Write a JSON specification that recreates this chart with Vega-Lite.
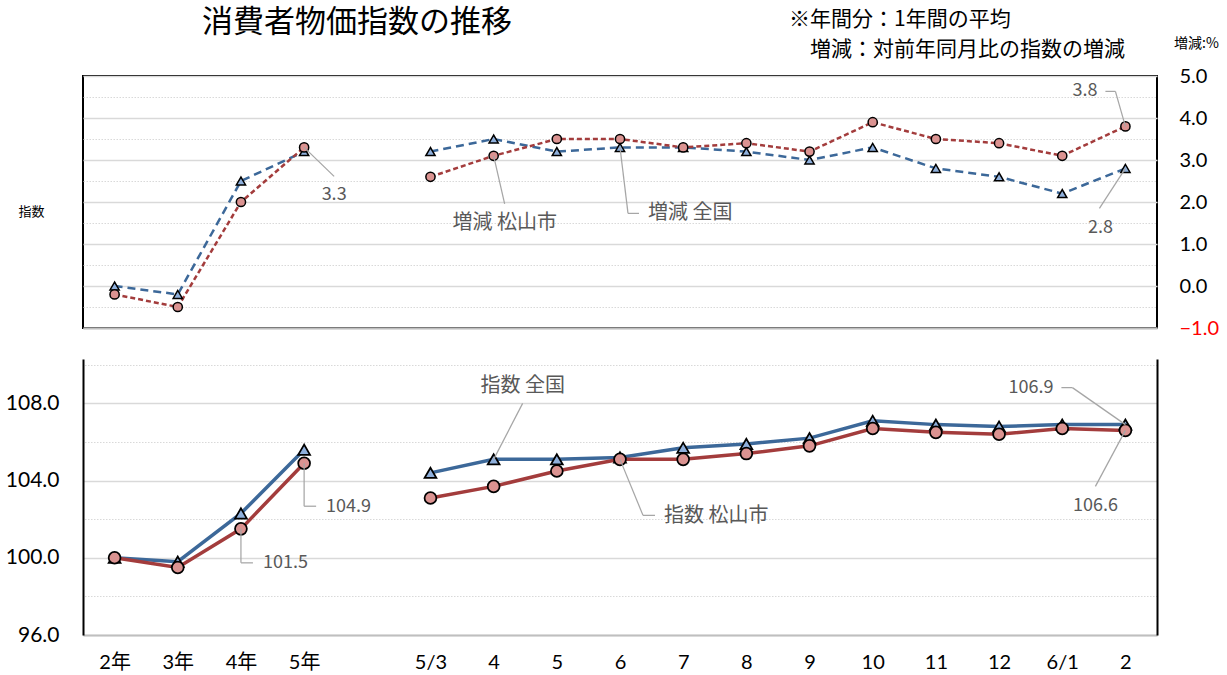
{
  "$schema": "https://vega.github.io/schema/vega-lite/v6.json",
  "padding": {"left": 5, "top": 7, "right": 5, "bottom": 5},
  "background": "white",
  "title": {"text": "消費者物価指数の推移", "anchor": "start", "frame": "group", "dx": 119, "dy": 31, "offset": 0, "fontSize": 31, "font": "Noto Sans CJK JP", "fontWeight": "normal", "color": "#000000"},
  "data": {"values": [
    {"k": "2年", "area": "全国", "p": "年", "idx": 100.0, "rate": 0.0},
    {"k": "3年", "area": "全国", "p": "年", "idx": 99.8, "rate": -0.2},
    {"k": "4年", "area": "全国", "p": "年", "idx": 102.3, "rate": 2.5},
    {"k": "5年", "area": "全国", "p": "年", "idx": 105.6, "rate": 3.2},
    {"k": "5/3", "area": "全国", "p": "月", "idx": 104.4, "rate": 3.2},
    {"k": "4", "area": "全国", "p": "月", "idx": 105.1, "rate": 3.5},
    {"k": "5", "area": "全国", "p": "月", "idx": 105.1, "rate": 3.2},
    {"k": "6", "area": "全国", "p": "月", "idx": 105.2, "rate": 3.3},
    {"k": "7", "area": "全国", "p": "月", "idx": 105.7, "rate": 3.3},
    {"k": "8", "area": "全国", "p": "月", "idx": 105.9, "rate": 3.2},
    {"k": "9", "area": "全国", "p": "月", "idx": 106.2, "rate": 3.0},
    {"k": "10", "area": "全国", "p": "月", "idx": 107.1, "rate": 3.3},
    {"k": "11", "area": "全国", "p": "月", "idx": 106.9, "rate": 2.8},
    {"k": "12", "area": "全国", "p": "月", "idx": 106.8, "rate": 2.6},
    {"k": "6/1", "area": "全国", "p": "月", "idx": 106.9, "rate": 2.2},
    {"k": "2", "area": "全国", "p": "月", "idx": 106.9, "rate": 2.8},
    {"k": "2年", "area": "松山市", "p": "年", "idx": 100.0, "rate": -0.2},
    {"k": "3年", "area": "松山市", "p": "年", "idx": 99.5, "rate": -0.5},
    {"k": "4年", "area": "松山市", "p": "年", "idx": 101.5, "rate": 2.0},
    {"k": "5年", "area": "松山市", "p": "年", "idx": 104.9, "rate": 3.3},
    {"k": "5/3", "area": "松山市", "p": "月", "idx": 103.1, "rate": 2.6},
    {"k": "4", "area": "松山市", "p": "月", "idx": 103.7, "rate": 3.1},
    {"k": "5", "area": "松山市", "p": "月", "idx": 104.5, "rate": 3.5},
    {"k": "6", "area": "松山市", "p": "月", "idx": 105.1, "rate": 3.5},
    {"k": "7", "area": "松山市", "p": "月", "idx": 105.1, "rate": 3.3},
    {"k": "8", "area": "松山市", "p": "月", "idx": 105.4, "rate": 3.4},
    {"k": "9", "area": "松山市", "p": "月", "idx": 105.8, "rate": 3.2},
    {"k": "10", "area": "松山市", "p": "月", "idx": 106.7, "rate": 3.9},
    {"k": "11", "area": "松山市", "p": "月", "idx": 106.5, "rate": 3.5},
    {"k": "12", "area": "松山市", "p": "月", "idx": 106.4, "rate": 3.4},
    {"k": "6/1", "area": "松山市", "p": "月", "idx": 106.7, "rate": 3.1},
    {"k": "2", "area": "松山市", "p": "月", "idx": 106.6, "rate": 3.8}
  ]},
  "spacing": 20,
  "vconcat": [
    {
      "width": 1074,
      "height": 252,
      "title": {"text": ["※年間分：1年間の平均", "\u200b\u3000増減：対前年同月比の指数の増減"], "anchor": "start", "frame": "group", "dx": 706, "offset": -24, "fontSize": 21, "lineHeight": 30, "font": "Noto Sans CJK JP", "fontWeight": "normal", "color": "#000000"},
      "view": {"stroke": "#000000", "strokeWidth": 2},
      "encoding": {
        "x": {"field": "k", "type": "ordinal", "scale": {"type": "point", "domain": ["2年", "3年", "4年", "5年", " ", "5/3", "4", "5", "6", "7", "8", "9", "10", "11", "12", "6/1", "2"], "padding": 0.5},
          "axis": {"title": null, "labels": false, "ticks": false, "grid": false, "domain": true, "domainColor": "#BFBFBF", "domainWidth": 2}}
      },
      "layer": [
        {
          "layer": [
            {
              "mark": {"type": "line", "strokeWidth": 2.5},
              "encoding": {
                "y": {"field": "rate", "type": "quantitative", "scale": {"domain": [-1, 5], "nice": false, "zero": false},
                  "axis": {"orient": "right", "values": [-1, 0, 1, 2, 3, 4, 5], "format": ".1f", "labelFontSize": 20, "labelFont": "Lato", "labelColor": {"condition": {"test": "datum.value < 0", "value": "#FF0000"}, "value": "#000000"}, "labelPadding": 22, "labelAlign": "left", "labelFlush": false, "labelOverlap": false, "ticks": false, "domain": false, "grid": true, "gridColor": "#D9D9D9", "gridWidth": 1.5,
                    "title": "増減:%", "titleFont": "Noto Sans CJK JP", "titleFontSize": 14, "titleFontWeight": "normal", "titleColor": "#000000", "titleAngle": 0, "titleX": 39, "titleY": -33, "titleAlign": "center", "titleBaseline": "middle"}},
                "color": {"field": "area", "type": "nominal", "scale": {"domain": ["全国", "松山市"], "range": ["#3C6899", "#A33C3C"]}, "legend": null},
                "strokeDash": {"field": "area", "type": "nominal", "scale": {"domain": ["全国", "松山市"], "range": [[8, 5], [5, 3]]}, "legend": null},
                "detail": {"field": "p"}
              }
            },
            {
              "mark": {"type": "point", "filled": true, "stroke": "#000000", "strokeWidth": 1.5, "opacity": 1, "size": 85},
              "encoding": {
                "y": {"field": "rate", "type": "quantitative"},
                "fill": {"field": "area", "type": "nominal", "scale": {"domain": ["全国", "松山市"], "range": ["#8FB0DC", "#DB9391"]}, "legend": null},
                "shape": {"field": "area", "type": "nominal", "scale": {"domain": ["全国", "松山市"], "range": ["triangle-up", "circle"]}, "legend": null}
              }
            },
            {
              "transform": [{"filter": "datum.k === '5年' && datum.area === '松山市'"}],
              "encoding": {"y": {"field": "rate", "type": "quantitative"}},
              "layer": [
                {"mark": {"type": "rule", "x2Offset": 30, "y2Offset": 29}, "encoding": {"x2": {"field": "k"}, "y2": {"field": "rate"}}},
                {"mark": {"type": "text", "dx": 30, "dy": 48}, "encoding": {"text": {"field": "rate", "type": "quantitative", "format": ".1f"}}}
              ]
            },
            {
              "transform": [{"filter": "datum.k === '4' && datum.area === '松山市'"}],
              "encoding": {"y": {"field": "rate", "type": "quantitative"}},
              "layer": [
                {"mark": {"type": "rule", "x2Offset": 11, "y2Offset": 48}, "encoding": {"x2": {"field": "k"}, "y2": {"field": "rate"}}},
                {"mark": {"type": "text", "dx": 11, "dy": 67, "fontSize": 20}, "encoding": {"text": {"value": "増減 松山市"}}}
              ]
            },
            {
              "transform": [{"filter": "datum.k === '6' && datum.area === '全国'"}],
              "encoding": {"y": {"field": "rate", "type": "quantitative"}},
              "layer": [
                {"mark": {"type": "rule", "x2Offset": 8, "y2Offset": 66}, "encoding": {"x2": {"field": "k"}, "y2": {"field": "rate"}}},
                {"mark": {"type": "rule", "xOffset": 8, "yOffset": 66, "x2Offset": 19, "y2Offset": 66}, "encoding": {"x2": {"field": "k"}, "y2": {"field": "rate"}}},
                {"mark": {"type": "text", "dx": 28, "dy": 66, "fontSize": 20, "align": "left"}, "encoding": {"text": {"value": "増減 全国"}}}
              ]
            },
            {
              "transform": [{"filter": "datum.k === '2' && datum.area === '全国'"}],
              "encoding": {"y": {"field": "rate", "type": "quantitative"}},
              "layer": [
                {"mark": {"type": "rule", "x2Offset": -26, "y2Offset": 40}, "encoding": {"x2": {"field": "k"}, "y2": {"field": "rate"}}},
                {"mark": {"type": "text", "dx": -25, "dy": 60}, "encoding": {"text": {"field": "rate", "type": "quantitative", "format": ".1f"}}}
              ]
            },
            {
              "transform": [{"filter": "datum.k === '2' && datum.area === '松山市'"}],
              "encoding": {"y": {"field": "rate", "type": "quantitative"}},
              "layer": [
                {"mark": {"type": "rule", "x2Offset": -10, "y2Offset": -35}, "encoding": {"x2": {"field": "k"}, "y2": {"field": "rate"}}},
                {"mark": {"type": "rule", "xOffset": -10, "yOffset": -35, "x2Offset": -20, "y2Offset": -35}, "encoding": {"x2": {"field": "k"}, "y2": {"field": "rate"}}},
                {"mark": {"type": "text", "dx": -28, "dy": -35, "align": "right"}, "encoding": {"text": {"field": "rate", "type": "quantitative", "format": ".1f"}}}
              ]
            }
          ]
        },
        {
          "mark": {"type": "point", "opacity": 0},
          "encoding": {
            "y": {"field": "rate", "type": "quantitative", "scale": {"domain": [-1, 5], "nice": false, "zero": false},
              "axis": {"orient": "left", "values": [-0.5, 0.5, 1.5, 2.5, 3.5, 4.5], "grid": true, "gridColor": "#D9D9D9", "gridDash": [1.5, 1.5], "gridWidth": 1, "labels": false, "ticks": false, "domain": false,
                "title": "指数", "titleAngle": 0, "titleX": -52, "titleY": 135, "titleAlign": "center", "titleBaseline": "middle", "titleFontSize": 13, "titleFont": "Noto Sans CJK JP", "titleFontWeight": "normal", "titleColor": "#000000"}}
          }
        }
      ],
      "resolve": {"scale": {"y": "independent"}}
    },
    {
      "width": 1074,
      "height": 276,
      "encoding": {
        "x": {"field": "k", "type": "ordinal", "scale": {"type": "point", "domain": ["2年", "3年", "4年", "5年", " ", "5/3", "4", "5", "6", "7", "8", "9", "10", "11", "12", "6/1", "2"], "padding": 0.5},
          "axis": {"title": null, "values": ["2年", "3年", "4年", "5年", "5/3", "4", "5", "6", "7", "8", "9", "10", "11", "12", "6/1", "2"], "labelFontSize": 20, "labelFont": "Lato, Noto Sans CJK JP", "labelPadding": 17, "labelColor": "#000000", "labelAngle": 0, "ticks": false, "grid": false, "domain": true, "domainColor": "#BFBFBF", "domainWidth": 2}}
      },
      "layer": [
        {
          "layer": [
            {
              "mark": {"type": "line", "strokeWidth": 3.5},
              "encoding": {
                "y": {"field": "idx", "type": "quantitative", "scale": {"domain": [96, 110.3], "nice": false, "zero": false},
                  "axis": {"orient": "left", "values": [96, 100, 104, 108], "format": ".1f", "labelFontSize": 21, "labelFont": "Lato", "labelPadding": 24, "labelColor": "#000000", "labelFlush": false, "ticks": false, "domain": true, "domainColor": "#000000", "domainWidth": 2, "grid": true, "gridColor": "#D9D9D9", "gridWidth": 1.5, "title": null}},
                "color": {"field": "area", "type": "nominal", "scale": {"domain": ["全国", "松山市"], "range": ["#3C6899", "#A33C3C"]}, "legend": null},
                "detail": {"field": "p"}
              }
            },
            {
              "mark": {"type": "point", "filled": true, "stroke": "#000000", "strokeWidth": 1.75, "opacity": 1, "size": 140},
              "encoding": {
                "y": {"field": "idx", "type": "quantitative"},
                "fill": {"field": "area", "type": "nominal", "scale": {"domain": ["全国", "松山市"], "range": ["#8FB0DC", "#DB9391"]}, "legend": null},
                "shape": {"field": "area", "type": "nominal", "scale": {"domain": ["全国", "松山市"], "range": ["triangle-up", "circle"]}, "legend": null}
              }
            },
            {
              "transform": [{"filter": "datum.k === '4' && datum.area === '全国'"}],
              "encoding": {"y": {"field": "idx", "type": "quantitative"}},
              "layer": [
                {"mark": {"type": "rule", "x2Offset": 29, "y2Offset": -56}, "encoding": {"x2": {"field": "k"}, "y2": {"field": "idx"}}},
                {"mark": {"type": "text", "dx": 29, "dy": -73, "fontSize": 20}, "encoding": {"text": {"value": "指数 全国"}}}
              ]
            },
            {
              "transform": [{"filter": "datum.k === '6' && datum.area === '松山市'"}],
              "encoding": {"y": {"field": "idx", "type": "quantitative"}},
              "layer": [
                {"mark": {"type": "rule", "x2Offset": 23, "y2Offset": 56}, "encoding": {"x2": {"field": "k"}, "y2": {"field": "idx"}}},
                {"mark": {"type": "rule", "xOffset": 23, "yOffset": 56, "x2Offset": 35, "y2Offset": 56}, "encoding": {"x2": {"field": "k"}, "y2": {"field": "idx"}}},
                {"mark": {"type": "text", "dx": 44, "dy": 57, "fontSize": 20, "align": "left"}, "encoding": {"text": {"value": "指数 松山市"}}}
              ]
            },
            {
              "transform": [{"filter": "datum.k === '5年' && datum.area === '松山市'"}],
              "encoding": {"y": {"field": "idx", "type": "quantitative"}},
              "layer": [
                {"mark": {"type": "rule", "x2Offset": 0, "y2Offset": 43}, "encoding": {"x2": {"field": "k"}, "y2": {"field": "idx"}}},
                {"mark": {"type": "rule", "yOffset": 43, "x2Offset": 12, "y2Offset": 43}, "encoding": {"x2": {"field": "k"}, "y2": {"field": "idx"}}},
                {"mark": {"type": "text", "dx": 22, "dy": 44, "align": "left"}, "encoding": {"text": {"field": "idx", "type": "quantitative", "format": ".1f"}}}
              ]
            },
            {
              "transform": [{"filter": "datum.k === '4年' && datum.area === '松山市'"}],
              "encoding": {"y": {"field": "idx", "type": "quantitative"}},
              "layer": [
                {"mark": {"type": "rule", "x2Offset": 0, "y2Offset": 34}, "encoding": {"x2": {"field": "k"}, "y2": {"field": "idx"}}},
                {"mark": {"type": "rule", "yOffset": 34, "x2Offset": 12, "y2Offset": 34}, "encoding": {"x2": {"field": "k"}, "y2": {"field": "idx"}}},
                {"mark": {"type": "text", "dx": 22, "dy": 34, "align": "left"}, "encoding": {"text": {"field": "idx", "type": "quantitative", "format": ".1f"}}}
              ]
            },
            {
              "transform": [{"filter": "datum.k === '2' && datum.area === '全国'"}],
              "encoding": {"y": {"field": "idx", "type": "quantitative"}},
              "layer": [
                {"mark": {"type": "rule", "x2Offset": -53, "y2Offset": -37}, "encoding": {"x2": {"field": "k"}, "y2": {"field": "idx"}}},
                {"mark": {"type": "rule", "xOffset": -53, "yOffset": -37, "x2Offset": -64, "y2Offset": -37}, "encoding": {"x2": {"field": "k"}, "y2": {"field": "idx"}}},
                {"mark": {"type": "text", "dx": -72, "dy": -37, "align": "right"}, "encoding": {"text": {"field": "idx", "type": "quantitative", "format": ".1f"}}}
              ]
            },
            {
              "transform": [{"filter": "datum.k === '2' && datum.area === '松山市'"}],
              "encoding": {"y": {"field": "idx", "type": "quantitative"}},
              "layer": [
                {"mark": {"type": "rule", "x2Offset": -30, "y2Offset": 56}, "encoding": {"x2": {"field": "k"}, "y2": {"field": "idx"}}},
                {"mark": {"type": "text", "dx": -30, "dy": 76}, "encoding": {"text": {"field": "idx", "type": "quantitative", "format": ".1f"}}}
              ]
            }
          ]
        },
        {
          "mark": {"type": "point", "opacity": 0},
          "encoding": {
            "y": {"field": "idx", "type": "quantitative", "scale": {"domain": [96, 110.3], "nice": false, "zero": false},
              "axis": {"orient": "right", "values": [98, 102, 106, 110], "grid": true, "gridColor": "#D9D9D9", "gridDash": [1.5, 1.5], "gridWidth": 1, "labels": false, "ticks": false, "domain": true, "domainColor": "#000000", "domainWidth": 2, "title": null}}
          }
        }
      ],
      "resolve": {"scale": {"y": "independent"}}
    }
  ],
  "config": {
    "view": {"stroke": null},
    "font": "Lato, Noto Sans CJK JP, sans-serif",
    "rule": {"color": "#A6A6A6", "strokeWidth": 1.25},
    "text": {"font": "Noto Sans CJK JP", "fontSize": 18, "color": "#595959", "baseline": "middle", "align": "center"}
  }
}
